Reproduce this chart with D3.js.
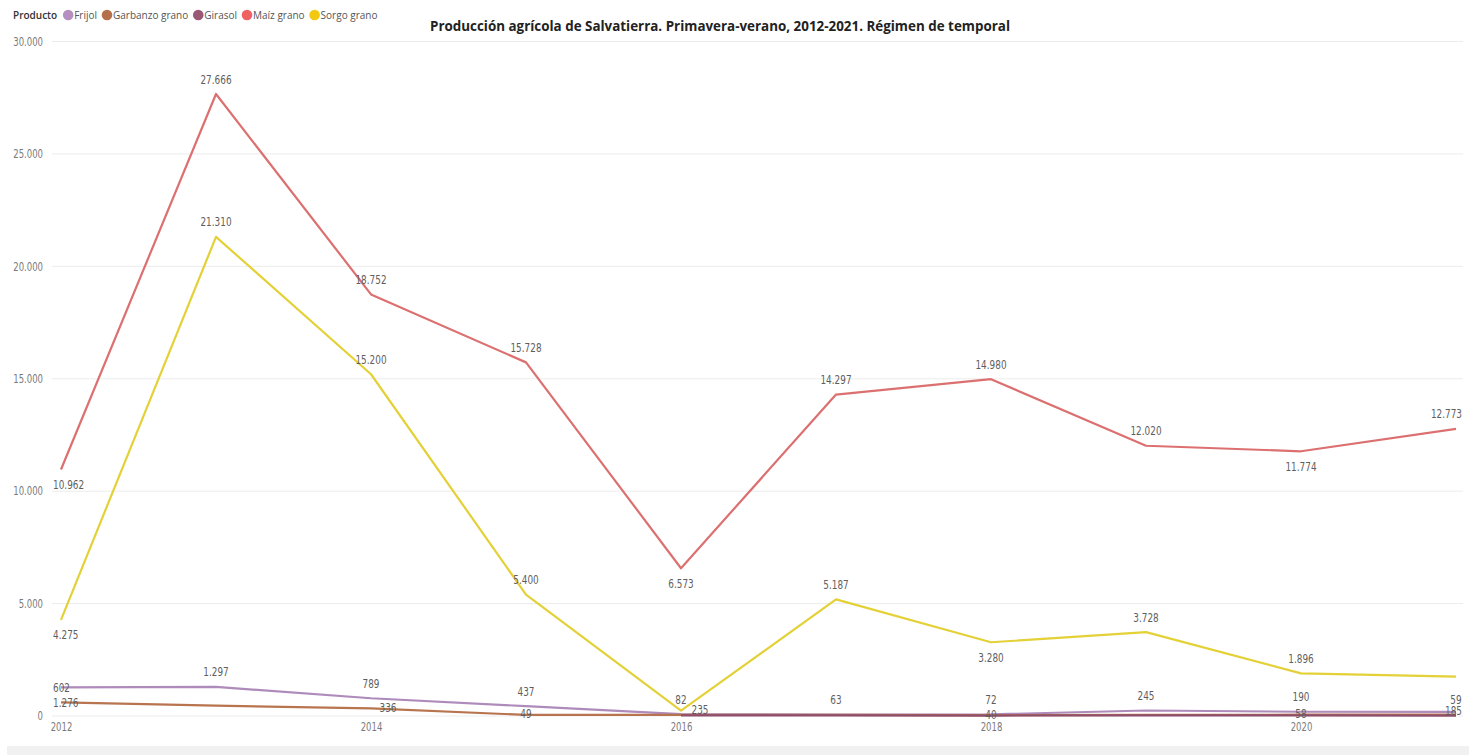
<!DOCTYPE html>
<html><head><meta charset="utf-8">
<script src="https://cdn.jsdelivr.net/npm/d3@7"></script>
<style>
html,body{margin:0;padding:0;background:#fff;}
svg{display:block;}
</style></head>
<body>
<svg id="chart" width="1469" height="755"></svg>
<script>
// ---- Data ----
const years = [2012, 2013, 2014, 2015, 2016, 2017, 2018, 2019, 2020, 2021];
const seriesNames = ["Frijol", "Garbanzo grano", "Girasol", "Maíz grano", "Sorgo grano"];
const frijol   = [1276, 1297, 789, 437, 82, 63, 72, 245, 190, 185];
const garbanzo = [602, 460, 336, 49, 50, 50, 40, 50, 58, 59];
const girasol  = [null, null, null, null, 25, 30, 20, 30, 25, 20];
const maiz     = [10962, 27666, 18752, 15728, 6573, 14297, 14980, 12020, 11774, 12773];
const sorgo    = [4275, 21310, 15200, 5400, 235, 5187, 3280, 3728, 1896, 1750];
const yTicks   = [0, 5000, 10000, 15000, 20000, 25000, 30000];
const xTicks   = [2012, 2014, 2016, 2018, 2020];
const title    = "Producción agrícola de Salvatierra. Primavera-verano, 2012-2021. Régimen de temporal";
const legendTitle = "Producto";

// ---- Styling / layout config ----
const lineColors   = ["#ae8bbb", "#b8744f", "#8f4e6c", "#dc7070", "#e3d137"];
const legendColors = ["#b48fc0", "#b66f4b", "#9a5876", "#f06262", "#f2c811"];
const placement = [
  ["below","above","above","above","above","above","above","above","above","on"],
  ["above","none","onright","on","none","none","on","none","on","above"],
  ["none","none","none","none","none","none","none","none","none","none"],
  ["below","above","above","above","below","above","above","above","below","above"],
  ["below","above","above","above","right","above","below","above","above","none"]
];
const seriesValues = [frijol, garbanzo, girasol, maiz, sorgo];
const NARROW = 0.74; // horizontal compression to mimic condensed DIN-like font
const numFont = "'DejaVu Sans',sans-serif";

const locale = d3.formatLocale({decimal: ",", thousands: ".", grouping: [3], currency: ["$", ""]});
const fmt = locale.format(",d");

function condense(sel) {
  sel.each(function() {
    const w = this.getComputedTextLength();
    d3.select(this).attr("textLength", w * NARROW).attr("lengthAdjust", "spacingAndGlyphs");
  });
}

const svg = d3.select("#chart");
const W = 1469, H = 755;

const x = d3.scaleLinear().domain([2012, 2021]).range([61, 1456]);
const y = d3.scaleLinear().domain([0, 30000]).range([716, 41.5]);

// bottom grey band
svg.append("rect").attr("x", 7).attr("y", 746).attr("width", W - 7).attr("height", 9).attr("fill", "#f1f1f1");

// gridlines
svg.append("g").selectAll("line").data(yTicks).join("line")
  .attr("x1", 52).attr("x2", 1463)
  .attr("y1", d => y(d)).attr("y2", d => y(d))
  .attr("stroke", "#ececec").attr("stroke-width", 1);

// y axis
const yAxis = d3.axisLeft(y).tickValues(yTicks).tickFormat(d => fmt(d)).tickSize(0).tickPadding(0);
const gy = svg.append("g").attr("transform", "translate(43,0)").call(yAxis);
gy.select(".domain").remove();
gy.selectAll("text").attr("fill", "#7a7a7a").style("font-family", numFont).style("font-size", "11.5px").call(condense);

// x axis
const xAxis = d3.axisBottom(x).tickValues(xTicks).tickFormat(d => String(d)).tickSize(0).tickPadding(0);
const gx = svg.append("g").attr("transform", "translate(0,723)").call(xAxis);
gx.select(".domain").remove();
gx.selectAll("text").attr("fill", "#7a7a7a").style("font-family", numFont).style("font-size", "11.5px").call(condense);

// lines
const line = d3.line().defined(d => d.v !== null).x(d => x(d.year)).y(d => y(d.v));
seriesNames.forEach((name, i) => {
  const pts = years.map((yr, j) => ({year: yr, v: seriesValues[i][j]}));
  svg.append("path").datum(pts)
    .attr("fill", "none").attr("stroke", lineColors[i]).attr("stroke-width", 2.2)
    .attr("stroke-linejoin", "round").attr("d", line);
});

// labels (scaled horizontally via transform so the box matches what is drawn)
const lblG = svg.append("g").style("font-family", numFont).style("font-size", "12px").attr("fill", "#5e5e5e");
seriesNames.forEach((name, i) => {
  years.forEach((yr, j) => {
    const v = seriesValues[i][j];
    const p = placement[i][j];
    if (v === null || p === "none") return;
    let dx = 0, dy = 0;
    if (p === "above") dy = -15;
    else if (p === "below") dy = 15;
    else if (p === "on") dy = -1;
    else if (p === "onright") { dx = 17; dy = -1; }
    else if (p === "right") { dx = 19; dy = -1; }
    const g = lblG.append("g");
    const t = g.append("text")
      .attr("text-anchor", "middle").attr("dominant-baseline", "central")
      .attr("x", 0).attr("y", 0).text(fmt(v));
    const w = t.node().getComputedTextLength() * NARROW;
    let cx = x(yr) + dx;
    if (cx - w / 2 < 53) cx = 53 + w / 2;
    if (cx + w / 2 > 1462) cx = 1462 - w / 2;
    g.attr("transform", `translate(${cx},${y(v) + dy}) scale(${NARROW},1)`);
  });
});

// title
svg.append("text").attr("x", 720).attr("y", 25).attr("text-anchor", "middle")
  .attr("dominant-baseline", "central")
  .style("font-family", "'Open Sans','Noto Sans',sans-serif").style("font-weight", "700").style("font-size", "15px")
  .attr("fill", "#222").attr("textLength", 580).attr("lengthAdjust", "spacingAndGlyphs").text(title);

// legend
const lg = svg.append("g").style("font-family", "'Open Sans','Noto Sans',sans-serif").style("font-size", "10px");
const lt = lg.append("text").attr("x", 13).attr("y", 15).attr("dominant-baseline", "central")
  .attr("fill", "#333").style("font-weight", "600").text(legendTitle);
let lx = 13 + lt.node().getComputedTextLength() + 11;
seriesNames.forEach((name, i) => {
  lg.append("circle").attr("cx", lx).attr("cy", 15).attr("r", 5.3).attr("fill", legendColors[i]);
  const t = lg.append("text").attr("x", lx + 6).attr("y", 15).attr("dominant-baseline", "central")
    .attr("fill", "#555").text(name);
  lx += 6 + t.node().getComputedTextLength() + 10;
});
</script>
</body></html>
